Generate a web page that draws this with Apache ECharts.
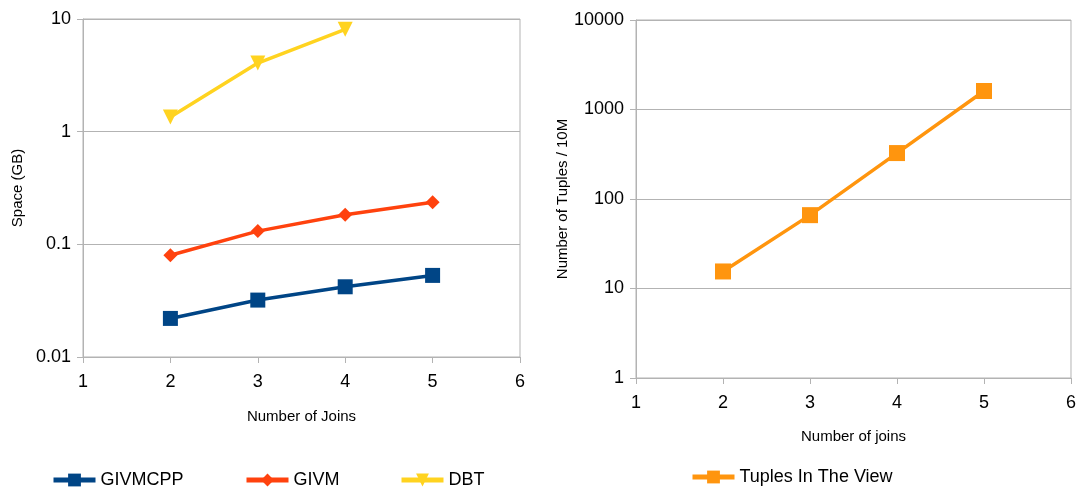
<!DOCTYPE html>
<html>
<head>
<meta charset="utf-8">
<script src="https://cdn.jsdelivr.net/npm/echarts@6/dist/echarts.min.js"></script>
<style>
  html, body { margin: 0; padding: 0; background: #fff; }
  #chart { width: 1079px; height: 492px; }
</style>
</head>
<body>
<div id="chart"></div>
<script>
// Number of joins on the x axis
const joins = [2, 3, 4, 5];
const dbtJoins = [2, 3, 4];

// Space used per approach (GB)
const givmcpp = [0.022, 0.032, 0.042, 0.053];
const givm = [0.08, 0.131, 0.183, 0.236];
const dbt = [1.35, 4.06, 8.1];

// Tuples in the view (units of 10M)
const tuples = [15.5, 66, 326, 1610];

const pair = (xs, ys) => xs.map((x, i) => [x, ys[i]]);

const FONT = 'Liberation Sans, Arial, sans-serif';
const AXIS_GRAY = '#b3b3b3';

function xAxisFor(gridIndex, name, nameGap) {
  return {
    type: 'value', gridIndex, min: 1, max: 6, interval: 1,
    name, nameLocation: 'middle', nameGap,
    nameTextStyle: { fontFamily: FONT, fontSize: 15, color: '#000' },
    axisLine: { show: true, lineStyle: { color: AXIS_GRAY } },
    axisTick: { show: true, length: 6, lineStyle: { color: AXIS_GRAY } },
    axisLabel: { fontFamily: FONT, fontSize: 18, color: '#000', margin: 16 },
    splitLine: { show: false }
  };
}

function yAxisFor(gridIndex, name, min, max, nameGap) {
  return {
    type: 'log', gridIndex, min, max, logBase: 10,
    name, nameLocation: 'middle', nameGap,
    nameTextStyle: { fontFamily: FONT, fontSize: 15, color: '#000' },
    axisLine: { show: true, lineStyle: { color: AXIS_GRAY } },
    axisTick: { show: true, length: 6, lineStyle: { color: AXIS_GRAY } },
    axisLabel: {
      fontFamily: FONT, fontSize: 18, color: '#000', margin: 12,
      formatter: v => String(v)
    },
    splitLine: { show: true, lineStyle: { color: AXIS_GRAY } },
    minorTick: { show: false }, minorSplitLine: { show: false }
  };
}

function lineSeries(name, data, color, symbol, size, xi, extra) {
  return Object.assign({
    name, type: 'line', xAxisIndex: xi, yAxisIndex: xi, data,
    symbol, symbolSize: size,
    lineStyle: { color, width: 3.5 },
    itemStyle: { color },
    animation: false
  }, extra || {});
}

function legendAt(name, left, top) {
  return {
    data: [name], left, top, padding: 0,
    itemWidth: 42, itemHeight: 16, itemGap: 8,
    lineStyle: { width: 5 },
    textStyle: { fontFamily: FONT, fontSize: 18, color: '#000' }
  };
}

const chart = echarts.init(document.getElementById('chart'), null, { renderer: 'canvas' });
chart.setOption({
  backgroundColor: '#fff',
  grid: [
    { left: 83, top: 19, width: 437, height: 338, show: true, borderColor: AXIS_GRAY, borderWidth: 1 },
    { left: 636, top: 20, width: 435, height: 358, show: true, borderColor: AXIS_GRAY, borderWidth: 1 }
  ],
  xAxis: [
    xAxisFor(0, 'Number of Joins', 52),
    xAxisFor(1, 'Number of joins', 51)
  ],
  yAxis: [
    yAxisFor(0, 'Space (GB)', 0.01, 10, 58),
    yAxisFor(1, 'Number of Tuples / 10M', 1, 10000, 65)
  ],
  legend: [
    legendAt('GIVMCPP', 51, 471),
    legendAt('GIVM', 244, 471),
    legendAt('DBT', 399, 471),
    legendAt('Tuples In The View', 690, 468)
  ],
  series: [
    lineSeries('GIVMCPP', pair(joins, givmcpp), '#004586', 'rect', 15, 0),
    lineSeries('GIVM', pair(joins, givm), '#ff420e', 'diamond', 14, 0),
    lineSeries('DBT', pair(dbtJoins, dbt), '#ffd320', 'triangle', 15, 0, { symbolRotate: 180 }),
    lineSeries('Tuples In The View', pair(joins, tuples), '#ff950e', 'rect', 16, 1)
  ]
});
</script>
</body>
</html>
